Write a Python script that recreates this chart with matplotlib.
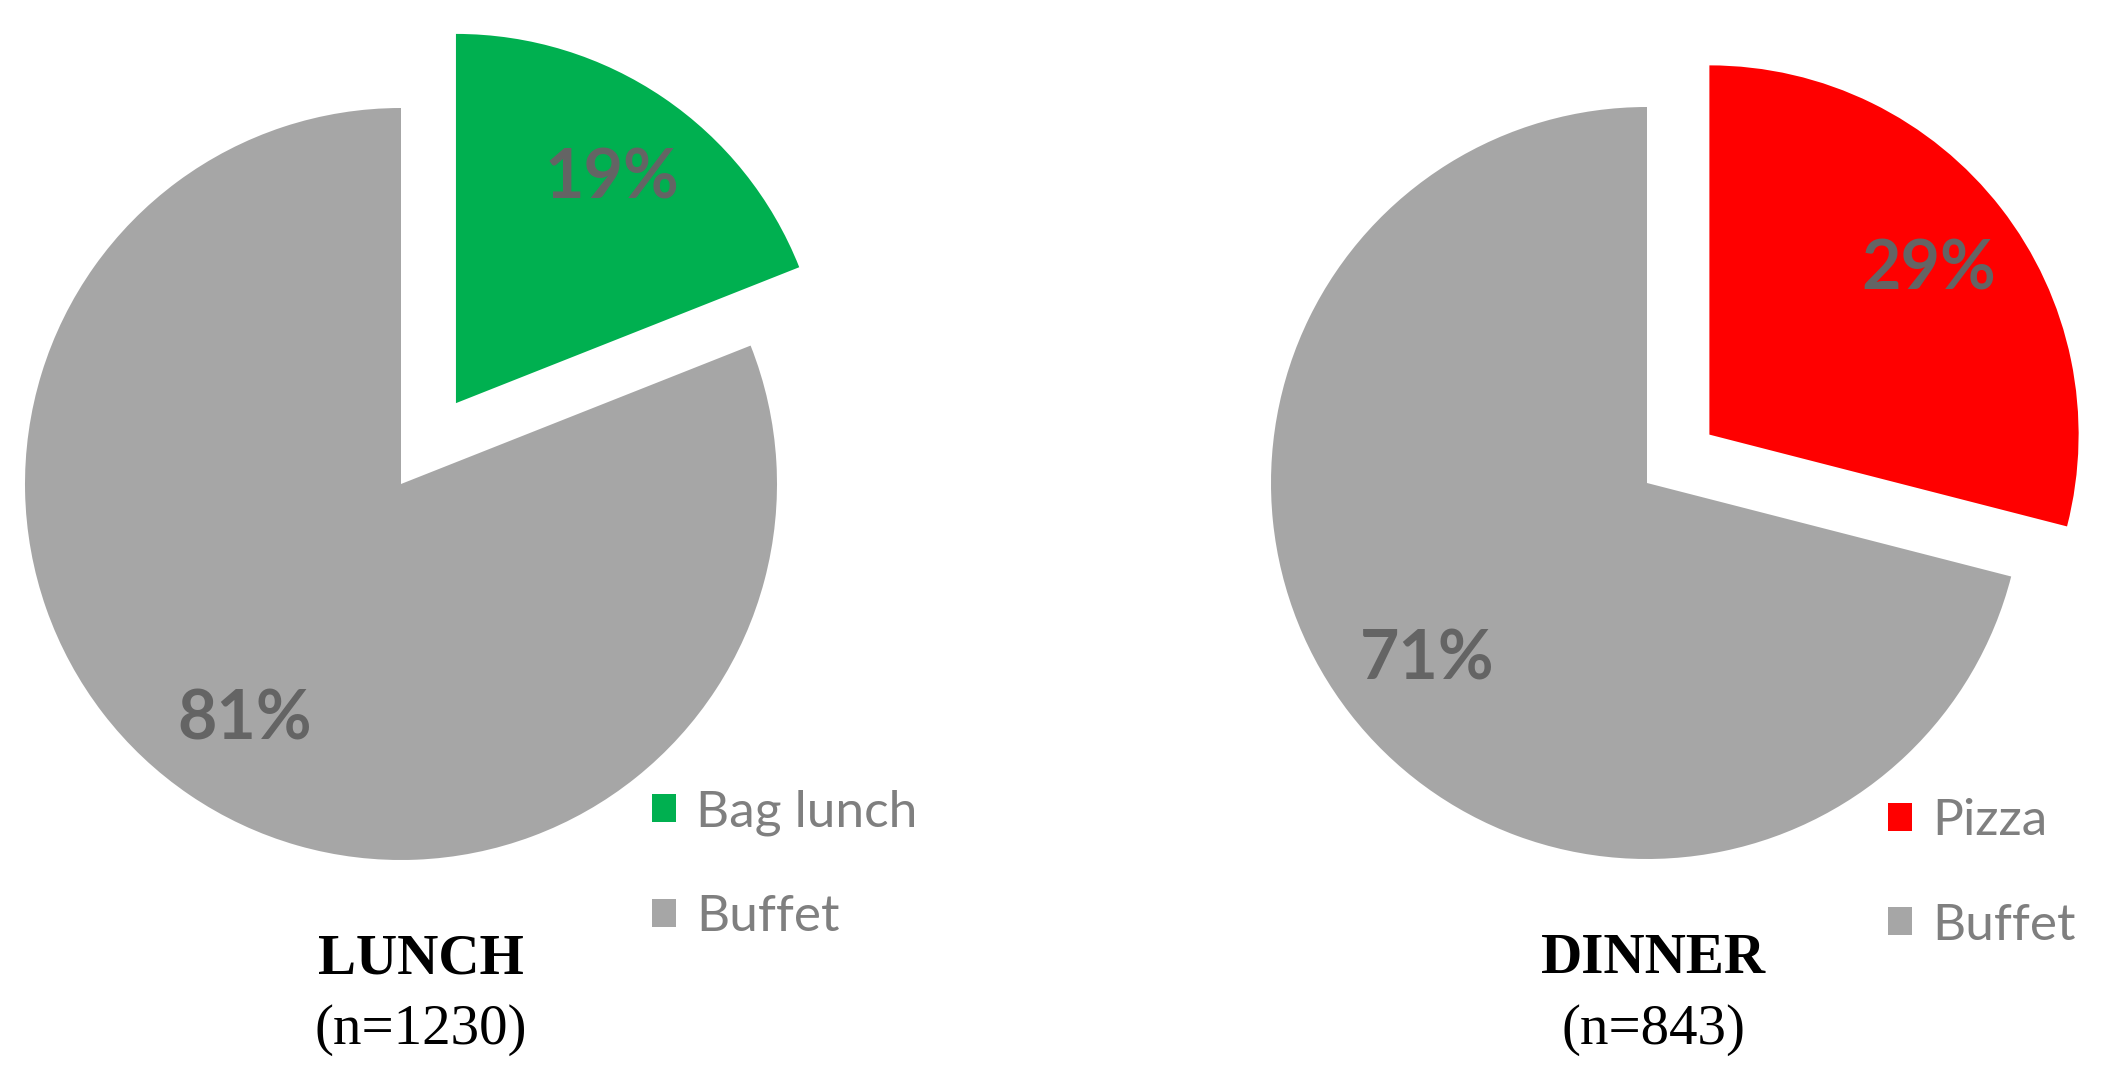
import matplotlib.pyplot as plt

# data
lunch_labels = ["Bag lunch", "Buffet"]
lunch_shares = [19, 81]
dinner_labels = ["Pizza", "Buffet"]
dinner_shares = [29, 71]
meal_names = ["LUNCH", "DINNER"]
sample_sizes = [1230, 843]

GRAY = "#A6A6A6"
lunch_colors = ["#00B050", GRAY]
dinner_colors = ["#FF0000", GRAY]

W, H = 2122, 1083
DPI = 100
R_PX = 376  # pie radius in pixels
LIM = 1.3


def pie_axes(fig, cx, cy):
    # square axes centred on (cx, cy) in pixels from top-left
    size = 2 * LIM * R_PX
    left = (cx - size / 2) / W
    bottom = (H - cy - size / 2) / H
    ax = fig.add_axes([left, bottom, size / W, size / H])
    return ax


def draw_pie(ax, shares, labels, colors, explode, legend_xy):
    wedges, _, autotexts = ax.pie(
        shares,
        colors=colors,
        explode=[explode, 0],
        startangle=90,
        counterclock=False,
        autopct="%1.0f%%",
        pctdistance=0.74,
        radius=1,
        wedgeprops={"linewidth": 0},
    )
    # exploded slice is drawn a touch smaller in the original
    wedges[0].set_radius(0.982)
    # pie() resets the limits, so set them afterwards
    ax.set_xlim(-LIM, LIM)
    ax.set_ylim(-LIM, LIM)
    ax.set_aspect("equal")
    ax.axis("off")
    for t in autotexts:
        t.set_fontfamily("Lato")
        t.set_fontweight("bold")
        t.set_fontsize(49)
        t.set_color("#646464")
        t.set_va("center_baseline")
    ax.figure.legend(
        wedges,
        labels,
        loc="upper left",
        bbox_to_anchor=(legend_xy[0] / W, 1 - legend_xy[1] / H),
        frameon=False,
        borderpad=0,
        borderaxespad=0,
        handlelength=0.47,
        handleheight=0.47,
        handletextpad=0.39,
        labelspacing=1.14,
        prop={"family": "Lato", "size": 37},
        labelcolor="#7F7F7F",
    )


fig = plt.figure(figsize=(W / DPI, H / DPI), dpi=DPI)

ax1 = pie_axes(fig, 401, 484)
draw_pie(ax1, lunch_shares, lunch_labels, lunch_colors, 0.26, (652, 789))

ax2 = pie_axes(fig, 1647, 483)
draw_pie(ax2, dinner_shares, dinner_labels, dinner_colors, 0.21, (1888, 798))

for x_px, name, n in zip([421, 1654], meal_names, sample_sizes):
    fig.text(x_px / W, 1 - 973 / H, name, ha="center", va="baseline",
             family="Liberation Serif", weight="bold", size=41, color="black")
    fig.text(x_px / W, 1 - 1044 / H, f"(n={n})", ha="center", va="baseline",
             family="Liberation Serif", size=41, color="black")

fig.savefig("out.png", dpi=DPI, facecolor="white")
